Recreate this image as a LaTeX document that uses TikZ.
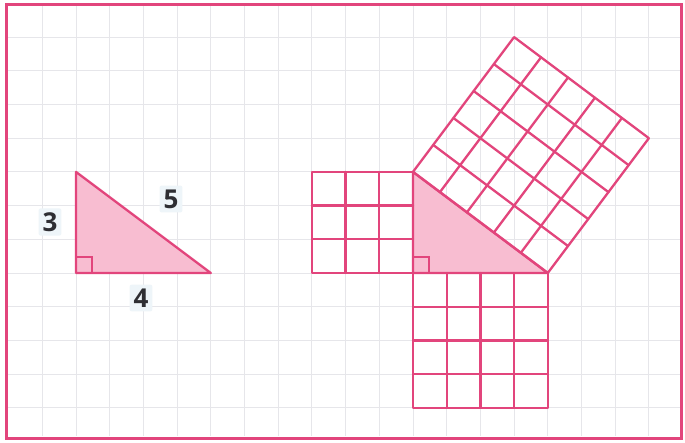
\documentclass[tikz,border=0pt]{standalone}
\usepackage{fontspec}
\setmainfont{Open Sans}
\usetikzlibrary{calc}
\definecolor{pk}{HTML}{E2457C}
\definecolor{pkfill}{HTML}{F8BDD1}
\definecolor{gridc}{HTML}{E6E6EA}
\definecolor{lblbg}{HTML}{EEF5F9}
\definecolor{txt}{HTML}{2E2E33}
\begin{document}
\begin{tikzpicture}[x=1pt,y=-1pt,
  pinkline/.style={draw=pk, line width=2.3pt, line join=round, line cap=round},
  gridline/.style={draw=gridc, line width=1pt},
  lbl/.style={fill=lblbg, rounded corners=2pt, inner sep=4pt, text=txt, font=\fontsize{26}{28}\selectfont\bfseries}]
\def\u{33.7}
\useasboundingbox (0,0) rectangle (685,442);
\fill[white] (0,0) rectangle (685,442);
% background grid
\foreach \k in {-11,...,7} \draw[gridline] (413+\k*\u,6) -- (413+\k*\u,436);
\foreach \k in {-7,...,4} \draw[gridline] (8,273+\k*\u) -- (680,273+\k*\u);
% frame
\draw[draw=pk, line width=3pt] (6,4) rectangle (681,438);

% ---- left triangle ----
\coordinate (lo) at (413-10*\u,273);
\coordinate (la) at ($(lo)+(0,-3*\u)$);
\coordinate (lb) at ($(lo)+(4*\u,0)$);
\fill[pkfill] (lo) -- (la) -- (lb) -- cycle;
\draw[pk, line width=1.6pt] ($(lo)+(0,-16)$) -- ++(16,0) -- ++(0,16);
\draw[pinkline] (lo) -- (la) -- (lb) -- cycle;
\node[lbl] (l3) at (50,222) {3};
\node[lbl] (l5) at (171,199) {5};
\node[lbl] (l4) at (141,298) {4};

% ---- right figure ----
\coordinate (o) at (413,273);
\coordinate (a) at ($(o)+(0,-3*\u)$);
\coordinate (b) at ($(o)+(4*\u,0)$);
\coordinate (c) at ($(b)+(3*\u,-4*\u)$);
\coordinate (d) at ($(a)+(3*\u,-4*\u)$);
\fill[pkfill] (o) -- (a) -- (b) -- cycle;
\draw[pk, line width=1.6pt] ($(o)+(0,-16)$) -- ++(16,0) -- ++(0,16);
% square on 3
\foreach \i in {1,2} {
  \draw[pinkline] (413-3*\u+\i*\u,273-3*\u) -- (413-3*\u+\i*\u,273);
  \draw[pinkline] (413-3*\u,273-3*\u+\i*\u) -- (413,273-3*\u+\i*\u);
}
\draw[pinkline] (413-3*\u,273-3*\u) rectangle (o);
% square on 4
\foreach \i in {1,2,3} {
  \draw[pinkline] (413+\i*\u,273) -- (413+\i*\u,273+4*\u);
  \draw[pinkline] (413,273+\i*\u) -- (413+4*\u,273+\i*\u);
}
\draw[pinkline] (o) rectangle (413+4*\u,273+4*\u);
% square on 5
\foreach \i in {1,2,3,4} {
  \draw[pinkline] ($(a)!\i/5!(b)$) -- ($(d)!\i/5!(c)$);
  \draw[pinkline] ($(a)!\i/5!(d)$) -- ($(b)!\i/5!(c)$);
}
\draw[pinkline] (a) -- (b) -- (c) -- (d) -- cycle;
\draw[pinkline] (o) -- (a) -- (b) -- cycle;
\end{tikzpicture}
\end{document}
